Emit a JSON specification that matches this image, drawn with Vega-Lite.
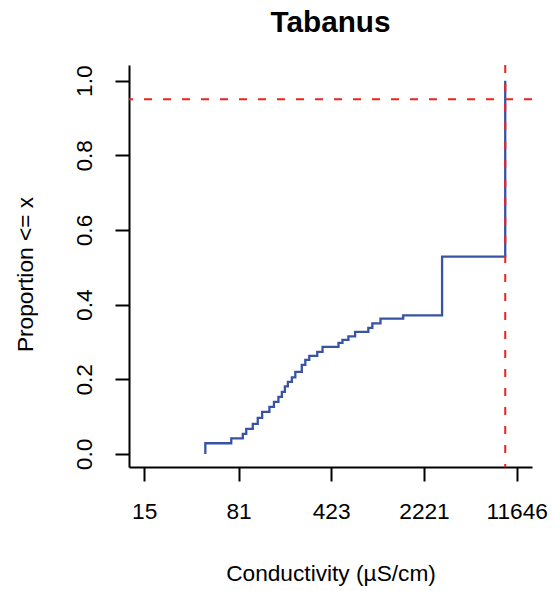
{
  "$schema": "https://vega.github.io/schema/vega-lite/v6.json",
  "width": 403,
  "height": 402,
  "autosize": {"type": "none"},
  "padding": {"left": 129, "top": 65, "right": 23, "bottom": 124},
  "config": {"view": {"stroke": null}, "font": "Liberation Sans"},
  "title": {"text": "Tabanus", "font": "Liberation Sans", "fontSize": 29.7, "fontWeight": "bold", "color": "black", "anchor": "middle", "frame": "group", "baseline": "alphabetic", "offset": 2},
  "data": {"values": [
    {"i": 0, "cond": 44.7, "p": 0},
    {"i": 1, "cond": 44.7, "p": 0.0286},
    {"i": 2, "cond": 71.0, "p": 0.0417},
    {"i": 3, "cond": 87.3, "p": 0.0536},
    {"i": 4, "cond": 92.8, "p": 0.0670},
    {"i": 5, "cond": 104.3, "p": 0.0804},
    {"i": 6, "cond": 114.0, "p": 0.0964},
    {"i": 7, "cond": 123.3, "p": 0.1125},
    {"i": 8, "cond": 140.4, "p": 0.1259},
    {"i": 9, "cond": 152.2, "p": 0.1393},
    {"i": 10, "cond": 164.9, "p": 0.1527},
    {"i": 11, "cond": 175.4, "p": 0.1661},
    {"i": 12, "cond": 185.1, "p": 0.1808},
    {"i": 13, "cond": 195.2, "p": 0.1929},
    {"i": 14, "cond": 209.6, "p": 0.2049},
    {"i": 15, "cond": 223.0, "p": 0.2197},
    {"i": 16, "cond": 250.4, "p": 0.2384},
    {"i": 17, "cond": 266.6, "p": 0.2518},
    {"i": 18, "cond": 286.2, "p": 0.2625},
    {"i": 19, "cond": 330.0, "p": 0.2732},
    {"i": 20, "cond": 362.6, "p": 0.2866},
    {"i": 21, "cond": 482.2, "p": 0.2973},
    {"i": 22, "cond": 517.6, "p": 0.3054},
    {"i": 23, "cond": 575.8, "p": 0.3147},
    {"i": 24, "cond": 648.9, "p": 0.3268},
    {"i": 25, "cond": 822.0, "p": 0.3375},
    {"i": 26, "cond": 882.8, "p": 0.3500},
    {"i": 27, "cond": 1021, "p": 0.3625},
    {"i": 28, "cond": 1532, "p": 0.3714},
    {"i": 29, "cond": 3068, "p": 0.5286},
    {"i": 30, "cond": 9478, "p": 1.0}
  ]},
  "layer": [
    {
      "mark": {"type": "line", "interpolate": "step-after", "color": "#3953A4", "strokeWidth": 2.3},
      "encoding": {
        "x": {"field": "cond", "type": "quantitative",
              "scale": {"type": "log", "domain": [11.43, 15290], "nice": false, "zero": false},
              "axis": {"values": [15, 81, 423, 2221, 11646], "format": "d", "title": "Conductivity (µS/cm)",
                       "grid": false, "domainColor": "black", "domainWidth": 2, "tickColor": "black", "tickWidth": 2, "tickSize": 14,
                       "labelFont": "Liberation Sans", "labelFontSize": 22.7, "labelColor": "black", "labelPadding": 19, "labelBaseline": "top",
                       "labelFlush": false, "labelOverlap": false,
                       "titleFont": "Liberation Sans", "titleFontSize": 22.7, "titleFontWeight": "normal", "titleColor": "black",
                       "titleY": 113, "titleBaseline": "alphabetic"}},
        "y": {"field": "p", "type": "quantitative",
              "scale": {"domain": [-0.035, 1.042], "nice": false, "zero": false},
              "axis": {"values": [0, 0.2, 0.4, 0.6, 0.8, 1], "format": ".1f", "title": "Proportion <= x",
                       "grid": false, "domainColor": "black", "domainWidth": 2, "tickColor": "black", "tickWidth": 2, "tickSize": 14,
                       "labelFont": "Liberation Sans", "labelFontSize": 22.7, "labelColor": "black", "labelPadding": 24,
                       "labelAngle": 270, "labelAlign": "center", "labelBaseline": "alphabetic", "labelFlush": false, "labelOverlap": false,
                       "titleFont": "Liberation Sans", "titleFontSize": 22.7, "titleFontWeight": "normal", "titleColor": "black",
                       "titleAngle": 270, "titleAlign": "center", "titleBaseline": "alphabetic", "titleX": -97, "titleY": 209}},
        "order": {"field": "i", "type": "quantitative"}
      }
    },
    {
      "data": {"values": [{}]},
      "mark": {"type": "rule", "color": "#EE2222", "strokeWidth": 2, "strokeDash": [8, 11]},
      "encoding": {"y": {"datum": 0.95}}
    },
    {
      "data": {"values": [{}]},
      "mark": {"type": "rule", "color": "#EE2222", "strokeWidth": 2, "strokeDash": [8, 11]},
      "encoding": {"x": {"datum": 9478}}
    }
  ]
}
